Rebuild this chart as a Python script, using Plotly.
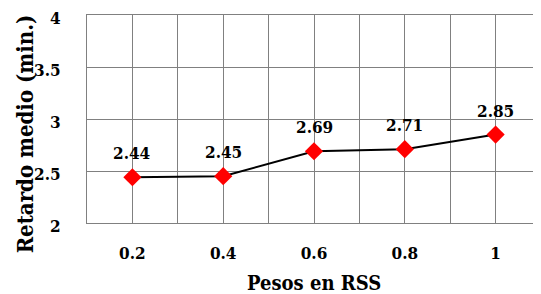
import plotly.graph_objects as go

pesos = [0.2, 0.4, 0.6, 0.8, 1.0]
tick_labels = ["0.2", "0.4", "0.6", "0.8", "1"]
retardo = [2.44, 2.45, 2.69, 2.71, 2.85]
y_ticks = [2, 2.5, 3, 3.5, 4]
y_tick_labels = ["2", "2.5", "3", "3.5", "4"]

FONT = "DejaVu Serif Condensed, DejaVu Serif"
GRID = "#808080"
OFF = 8  # page body margin offset

fig = go.Figure()
fig.add_trace(go.Scatter(
    x=pesos, y=retardo, mode="lines+markers",
    line=dict(color="black", width=2),
    marker=dict(symbol="diamond", color="red", size=14, line=dict(width=0)),
    showlegend=False, cliponaxis=False,
))

for xv, yv in zip(pesos, retardo):
    fig.add_annotation(x=xv, y=yv, text=f"<b>{yv:.2f}</b>", showarrow=False,
                       yshift=24, font=dict(family=FONT, size=17, color="black"))

fig.add_annotation(xref="paper", yref="paper", x=-0.137, y=0.43, xanchor="center", yanchor="middle",
                   text="<b>Retardo medio (min.)</b>", textangle=-90, showarrow=False,
                   font=dict(family=FONT, size=22, color="black"))
fig.add_annotation(xref="paper", yref="paper", x=0.5, y=-0.288, xanchor="center", yanchor="middle",
                   text="<b>Pesos en RSS</b>", showarrow=False,
                   font=dict(family=FONT, size=20, color="black"))

fig.update_layout(
    width=541 - OFF, height=294 - OFF,
    margin=dict(l=87 - OFF, r=0, t=15 - OFF, b=71),
    paper_bgcolor="white", plot_bgcolor="white",
    font=dict(family=FONT, size=17, color="black"),
    xaxis=dict(
        range=[0.1, 1.1], tickvals=pesos, ticktext=[f"<b>{t}</b>" for t in tick_labels],
        showgrid=True, gridcolor=GRID, gridwidth=1,
        minor=dict(tick0=0.1, dtick=0.2, showgrid=True, gridcolor=GRID, gridwidth=1),
        showline=True, mirror=True, linecolor=GRID, linewidth=1,
        ticks="", ticklabelstandoff=15, zeroline=False, automargin=False,
        ticklabeloverflow="allow",
    ),
    yaxis=dict(
        range=[2, 4], tickvals=y_ticks, ticktext=[f"<b>{t}</b>" for t in y_tick_labels],
        showgrid=True, gridcolor=GRID, gridwidth=1,
        showline=True, mirror=True, linecolor=GRID, linewidth=1,
        ticks="", ticklabelstandoff=22, ticklabelshift=3, zeroline=False, automargin=False,
        ticklabeloverflow="allow",
    ),
)

fig.write_html("out.html")
